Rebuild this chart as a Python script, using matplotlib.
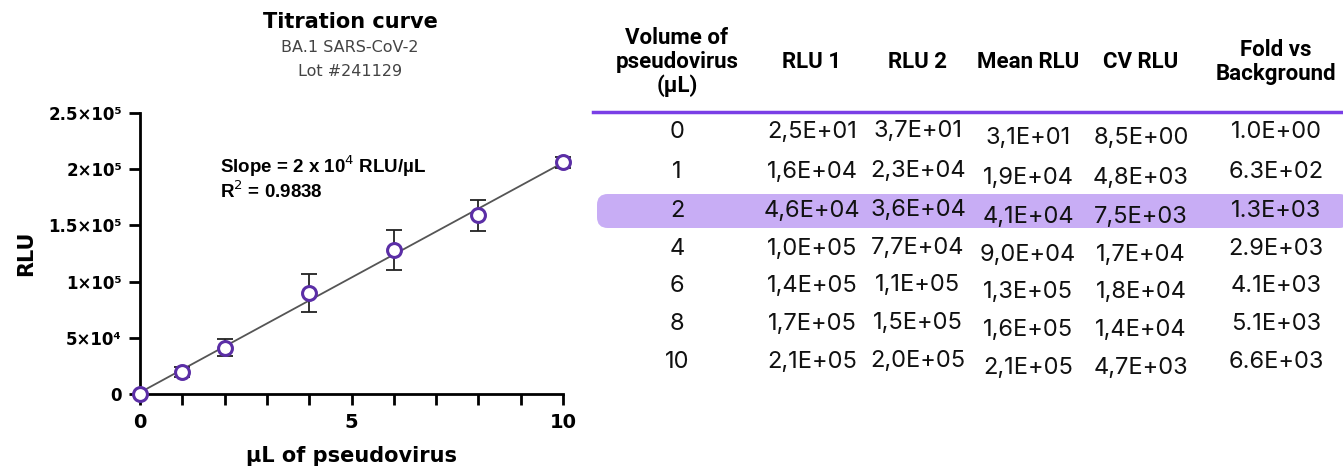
import numpy as np
import matplotlib.pyplot as plt
from matplotlib.patches import FancyBboxPatch

# Data
volume = [0, 1, 2, 4, 6, 8, 10]
mean_rlu = [31, 19500, 41000, 90000, 128000, 159000, 206000]
sd_rlu = [8.5, 4800, 7500, 17000, 18000, 14000, 4700]

# Table
col_headers = ["Volume of\npseudovirus\n(µL)", "RLU 1", "RLU 2", "Mean RLU", "CV RLU", "Fold vs\nBackground"]
vol_labels = ["0", "1", "2", "4", "6", "8", "10"]
rlu1 = ["2,5E+01", "1,6E+04", "4,6E+04", "1,0E+05", "1,4E+05", "1,7E+05", "2,1E+05"]
rlu2 = ["3,7E+01", "2,3E+04", "3,6E+04", "7,7E+04", "1,1E+05", "1,5E+05", "2,0E+05"]
mean_txt = ["3,1E+01", "1,9E+04", "4,1E+04", "9,0E+04", "1,3E+05", "1,6E+05", "2,1E+05"]
cv_txt = ["8,5E+00", "4,8E+03", "7,5E+03", "1,7E+04", "1,8E+04", "1,4E+04", "4,7E+03"]
fold_txt = ["1.0E+00", "6.3E+02", "1.3E+03", "2.9E+03", "4.1E+03", "5.1E+03", "6.6E+03"]
highlight_row = 2

W, H = 1343, 467
fig = plt.figure(figsize=(W / 100, H / 100), dpi=100)
plt.rcParams['font.family'] = ['Liberation Sans', 'DejaVu Sans']

def fx(px):
    return px / W

def fy(py):
    return 1 - py / H

# ---- titration plot ----
ax = fig.add_axes([fx(140), fy(394), fx(563) - fx(140), fy(113) - fy(394)])
ax.set_xlim(0, 10)
ax.set_ylim(0, 2.5e5)

slope, icpt = np.polyfit(volume, mean_rlu, 1)
xx = np.array([0, 10])
ax.plot(xx, slope * xx + icpt, color="#555555", lw=1.3, zorder=2)
ax.errorbar(volume, mean_rlu, yerr=sd_rlu, fmt="none", ecolor="#222222",
            elinewidth=1.3, capsize=6, capthick=1.3, zorder=3, clip_on=False)
ax.plot(volume, mean_rlu, "o", ms=10, mfc="white", mec="#5b2ea6", mew=2.2,
        zorder=4, clip_on=False)

for s in ["top", "right"]:
    ax.spines[s].set_visible(False)
for s in ["left", "bottom"]:
    ax.spines[s].set_linewidth(2)

ax.set_xticks([0, 5, 10])
ax.set_xticks(range(11), minor=True)
ax.set_xticklabels(["0", "5", "10"], fontsize=14, fontweight="bold", family="DejaVu Sans")
ax.set_yticks([0, 5e4, 1e5, 1.5e5, 2e5, 2.5e5])
ax.set_yticklabels(["0", "5×10⁴", "1×10⁵", "1.5×10⁵", "2×10⁵", "2.5×10⁵"],
                   fontsize=12, fontweight="bold", family="DejaVu Sans")
ax.tick_params(axis="both", which="both", direction="out", width=2, length=8, pad=5)
ax.tick_params(axis="x", pad=6)

ax.set_ylabel("RLU", fontsize=15, fontweight="bold", family="DejaVu Sans", labelpad=9)
ax.set_xlabel("µL of pseudovirus", fontsize=15, fontweight="bold", family="DejaVu Sans", labelpad=10)

ax.text(0.19, 0.81, "Slope = 2 x 10$^{4}$ RLU/µL", transform=ax.transAxes,
        fontsize=13.5, fontweight="bold", va="center")
ax.text(0.19, 0.72, "R$^{2}$ = 0.9838", transform=ax.transAxes,
        fontsize=13.5, fontweight="bold", va="center")

fig.text(fx(350), fy(22), "Titration curve", ha="center", va="center",
         fontsize=15, fontweight="bold", family="DejaVu Sans")
fig.text(fx(350), fy(47), "BA.1 SARS-CoV-2", ha="center", va="center",
         fontsize=11.5, color="#444444", family="DejaVu Sans")
fig.text(fx(350), fy(72), "Lot #241129", ha="center", va="center",
         fontsize=11.5, color="#444444", family="DejaVu Sans")

# ---- table ----
col_x = [677, 812, 918, 1028, 1141, 1276]
for x, h in zip(col_x, col_headers):
    fig.text(fx(x), fy(62), h, ha="center", va="center", fontsize=16,
             fontweight="bold", family="Roboto", linespacing=1.1)

fig.add_artist(plt.Line2D([fx(593), fx(1343)], [fy(112), fy(112)],
                          color="#7a3fe6", lw=2.5))

row_y = [132, 172, 211, 249, 286, 324, 362]
fig.add_artist(FancyBboxPatch((fx(597), fy(228)), fx(1350) - fx(597), fy(194) - fy(228),
                              boxstyle="round,pad=0,rounding_size=0.008",
                              transform=fig.transFigure, fc="#c8adf5", ec="none",
                              mutation_aspect=W / H, zorder=0))

columns = [vol_labels, rlu1, rlu2, mean_txt, cv_txt, fold_txt]
offsets = [0, 0, -1, 6, 6, 0]
for x, col, off in zip(col_x, columns, offsets):
    for y, t in zip(row_y, col):
        fig.text(fx(x), fy(y + off), t, ha="center", va="center", fontsize=17,
                 family="Inter", color="#111111")

fig.savefig("out.png", dpi=100)
